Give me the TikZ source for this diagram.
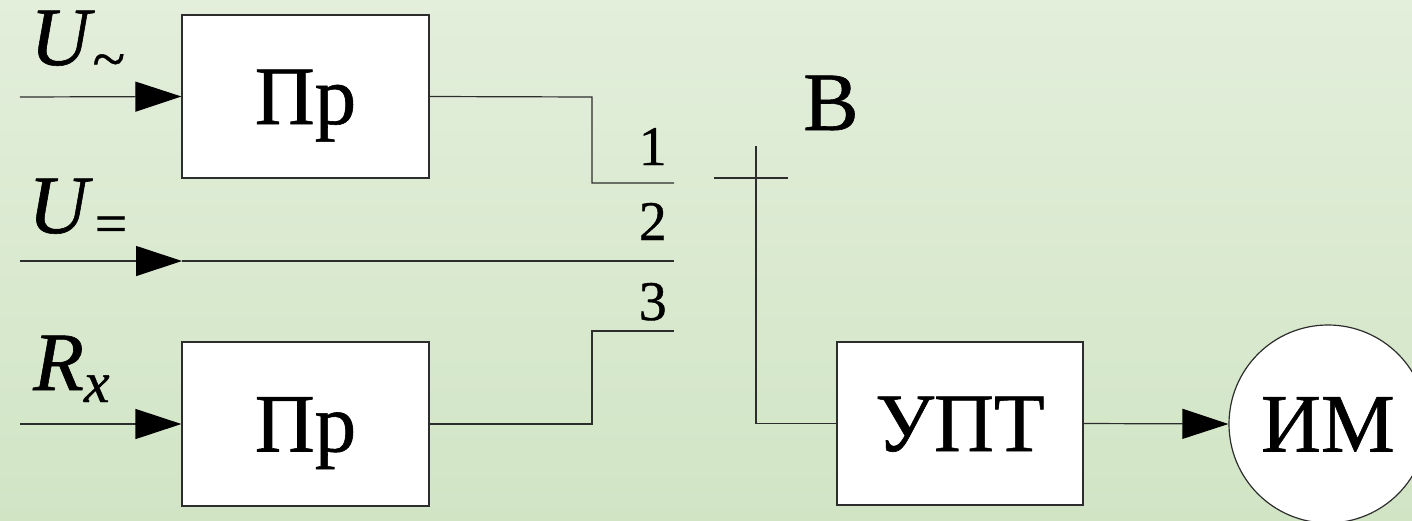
\documentclass[tikz,border=0pt]{standalone}
\usepackage{fontspec}
\setmainfont{Liberation Serif}[FakeBold=0.7]
\usetikzlibrary{arrows.meta}
\definecolor{bgtop}{RGB}{227,238,219}
\definecolor{bgbot}{RGB}{209,229,197}
\definecolor{ln}{RGB}{45,45,45}
\begin{document}
\begin{tikzpicture}[x=1pt,y=-1pt,
  wire/.style={draw=ln,line width=1.2pt},
  arr/.style={wire,-{Triangle[length=46pt,width=30pt,color=black]}},
  block/.style={draw=ln,line width=1.2pt,fill=white,font=\fontsize{83}{90}\selectfont,text height=55pt,text depth=0pt,inner sep=0pt},
  lbl/.style={font=\fontsize{83}{90}\selectfont,inner sep=0pt,anchor=base west},
  num/.style={font=\fontsize{56}{60}\selectfont,inner sep=0pt,anchor=base east}]
\shade[top color=bgtop,bottom color=bgbot] (0,0) rectangle (1412,520);
\useasboundingbox (0,0) rectangle (1412,520);
\clip (0,0) rectangle (1412,520);
% blocks
\node[block,minimum width=247pt,minimum height=163pt] (pr1) at (305.5,96.5) {Пр};
\node[block,minimum width=247pt,minimum height=164pt] (pr2) at (305.5,424) {Пр};
\node[block,minimum width=246pt,minimum height=163pt] (upt) at (960,423.5) {УПТ};
\node[block,circle,minimum size=198pt] (im) at (1328,424) {ИМ};
% labels
\node[lbl] (lu1) at (30,65) {\textit{U}\kern-2pt\raisebox{-14pt}{\fontsize{60}{60}\selectfont\textasciitilde}};
\node[lbl] (lu2) at (28,233) {\textit{U}\kern2pt\raisebox{-10pt}{\fontsize{58}{60}\selectfont =}};
\node[lbl] (lr) at (33,390) {\textit{R}\raisebox{-12pt}{\fontsize{58}{60}\selectfont\textit{x}}};
\node[lbl] (lb) at (803,130) {В};
\node[num] (n1) at (667,165) {1};
\node[num] (n2) at (667,240) {2};
\node[num] (n3) at (667,320) {3};
% coordinates
\coordinate (i1) at (20,97);
\coordinate (i2) at (20,261);
\coordinate (i3) at (20,424);
\coordinate (m2) at (182,261);
\coordinate (c1) at (674,183);
\coordinate (c2) at (674,261);
\coordinate (c3) at (674,331);
\coordinate (sw) at (756,146);
\coordinate (bl) at (714,178);
\coordinate (br) at (788,178);
% connectors
\draw[arr] (i1) -- (pr1.west);
\draw[arr] (i2) -- (m2);
\draw[wire] (m2) -- (c2);
\draw[arr] (i3) -- (pr2.west);
\draw[wire] (pr1.east) -- (592,97) -- (592,183) -- (c1);
\draw[wire] (pr2.east) -- (592,424) -- (592,331) -- (c3);
\draw[wire] (sw) |- (upt.west);
\draw[wire] (bl) -- (br);
\draw[arr] (upt.east) -- (im.west);
\end{tikzpicture}
\end{document}
